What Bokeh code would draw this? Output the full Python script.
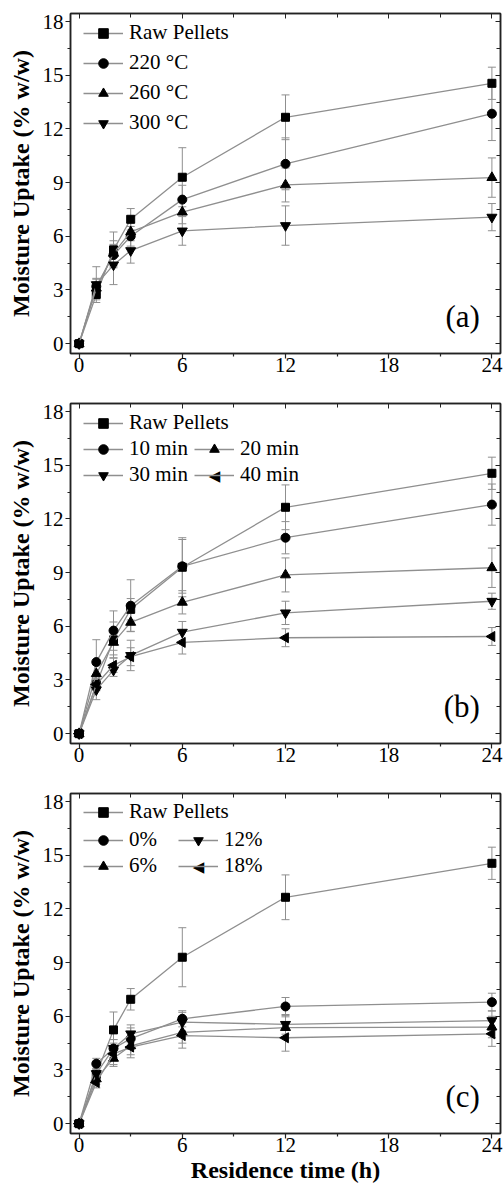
import math
from bokeh.plotting import figure
from bokeh.models import (ColumnDataSource, Whisker, TeeHead, FixedTicker, LinearAxis,
                          Legend, LegendItem, Label, Range1d, CustomLabelingPolicy)
from bokeh.layouts import column
from bokeh.embed import file_html
from bokeh.resources import INLINE

# ---------------- data ----------------
hours = [0, 1, 2, 3, 6, 12, 24]

raw = [0, 2.75, 5.24, 6.95, 9.3, 12.65, 14.55]
raw_err = [0, 0.3, 1.0, 0.6, 1.65, 1.25, 0.9]

# (a) torrefaction temperature
t220 = [0, 3.2, 4.95, 6.0, 8.05, 10.05, 12.85]
t220_err = [0, 0.45, 0.6, 0.55, 0.8, 1.45, 1.5]
t260 = [0, 3.1, 5.05, 6.25, 7.35, 8.87, 9.28]
t260_err = [0, 0.5, 0.7, 0.5, 0.65, 0.95, 1.1]
t300 = [0, 3.3, 4.4, 5.2, 6.3, 6.6, 7.07]
t300_err = [0, 1.0, 1.1, 0.7, 0.8, 1.1, 0.76]

# (b) residence time
m10 = [0, 4.0, 5.76, 7.15, 9.35, 10.95, 12.8]
m10_err = [0, 1.25, 1.1, 1.45, 1.5, 0.9, 1.15]
m20 = [0, 3.35, 5.1, 6.22, 7.34, 8.87, 9.27]
m20_err = [0, 0.5, 0.7, 0.5, 0.65, 0.95, 1.1]
m30 = [0, 2.45, 3.55, 4.37, 5.67, 6.75, 7.4]
m30_err = [0, 0.55, 0.35, 0.85, 0.6, 0.65, 0.45]
m40 = [0, 2.75, 3.82, 4.3, 5.1, 5.36, 5.43]
m40_err = [0, 0.35, 0.4, 0.5, 0.65, 0.5, 0.5]

# (c) additive content
p0 = [0, 3.35, 4.2, 4.75, 5.86, 6.55, 6.79]
p0_err = [0, 0.3, 0.5, 0.6, 0.45, 0.5, 0.5]
p6 = [0, 2.5, 3.65, 4.35, 5.1, 5.37, 5.4]
p6_err = [0, 0.3, 0.45, 0.5, 0.6, 0.6, 0.6]
p12 = [0, 2.8, 4.2, 5.02, 5.67, 5.55, 5.76]
p12_err = [0, 0.3, 0.5, 0.5, 0.55, 0.55, 0.55]
p18 = [0, 2.3, 3.9, 4.28, 4.92, 4.8, 5.02]
p18_err = [0, 0.3, 0.6, 0.6, 0.7, 0.75, 0.7]

x_major = [0, 6, 12, 18, 24]
x_minor = [3, 9, 15, 21]
y_major = [0, 3, 6, 9, 12, 15, 18]
y_minor = [1.5, 4.5, 7.5, 10.5, 13.5, 16.5]

# ---------------- style ----------------
FONT = "Liberation Serif"
LINE_GRAY = "#8f8f8f"
ERR_GRAY = "#8f8f8f"
AX = "#222222"
FRAME_H = 340

MARKERS = {
    "square": dict(marker="square", size=8, angle=0.0),
    "circle": dict(marker="circle", size=9, angle=0.0),
    "up": dict(marker="triangle", size=10, angle=0.0),
    "down": dict(marker="inverted_triangle", size=10, angle=0.0),
    "left": dict(marker="triangle", size=10, angle=math.pi / 2),
}

NO_LABELS = CustomLabelingPolicy(code="""
    const out = [];
    for (const i of indices) out.push(i);
    for (const i of out) indices.unset(i);
    return indices;
""")


def make_panel(series, tag, legend_specs, height, bottom, xlabel=None):
    p = figure(width=504, height=height, x_range=Range1d(-0.5, 24.5),
               y_range=Range1d(-0.55, 18.45), output_backend="svg",
               toolbar_location=None, min_border_left=70, min_border_right=1,
               min_border_top=13, min_border_bottom=bottom)
    p.xgrid.visible = False
    p.ygrid.visible = False
    p.outline_line_color = AX
    p.outline_line_width = 1.5
    p.background_fill_color = "white"
    p.border_fill_color = "white"

    xa = p.below[0]
    xa.ticker = FixedTicker(ticks=x_major, minor_ticks=x_minor)
    ya = p.left[0]
    ya.ticker = FixedTicker(ticks=y_major, minor_ticks=y_minor)
    for ax in (xa, ya):
        ax.axis_line_color = AX
        ax.axis_line_width = 1.5
        ax.major_tick_line_color = AX
        ax.minor_tick_line_color = AX
        ax.major_tick_line_width = 1.2
        ax.minor_tick_line_width = 1.2
        ax.major_tick_out = 5
        ax.major_tick_in = 0
        ax.minor_tick_out = 3
        ax.minor_tick_in = 0
        ax.major_label_text_font = FONT
        ax.major_label_text_font_size = "21px"
        ax.major_label_text_color = "black"
    xa.major_label_standoff = -1
    ya.major_label_standoff = 2
    ya.axis_label = "Moisture Uptake (% w/w)"
    ya.axis_label_text_font = FONT
    ya.axis_label_text_font_style = "bold"
    ya.axis_label_text_font_size = "24px"
    ya.axis_label_text_color = "black"
    ya.axis_label_standoff = 6
    if xlabel:
        xa.axis_label = xlabel
        xa.axis_label_text_font = FONT
        xa.axis_label_text_font_style = "bold"
        xa.axis_label_text_font_size = "24px"
        xa.axis_label_text_color = "black"
        xa.axis_label_standoff = 2

    top = LinearAxis(ticker=FixedTicker(ticks=x_major, minor_ticks=x_minor))
    right = LinearAxis(ticker=FixedTicker(ticks=y_major, minor_ticks=y_minor))
    for ax in (top, right):
        ax.axis_line_color = AX
        ax.axis_line_width = 1.5
        ax.major_tick_line_color = AX
        ax.minor_tick_line_color = AX
        ax.major_tick_in = 5
        ax.major_tick_out = 0
        ax.minor_tick_in = 4
        ax.minor_tick_out = 0
        ax.major_label_text_font_size = "1px"
        ax.major_label_standoff = 0
        ax.major_label_policy = NO_LABELS
    p.add_layout(top, "above")
    p.add_layout(right, "right")

    rend = {}
    for name, ys, errs, mk in series:
        src = ColumnDataSource(dict(x=hours, y=ys,
                                    u=[a + b for a, b in zip(ys, errs)],
                                    l=[a - b for a, b in zip(ys, errs)]))
        w = Whisker(base="x", upper="u", lower="l", source=src,
                    line_color=ERR_GRAY, line_width=1,
                    upper_head=TeeHead(size=8, line_color=ERR_GRAY, line_width=1),
                    lower_head=TeeHead(size=8, line_color=ERR_GRAY, line_width=1))
        p.add_layout(w)
        ln = p.line("x", "y", source=src, line_color=LINE_GRAY, line_width=1.3)
        m = MARKERS[mk]
        sc = p.scatter("x", "y", source=src, marker=m["marker"], size=m["size"],
                       angle=m["angle"], fill_color="black", line_color="black")
        rend[name] = (ln, sc, mk)

    # one legend per entry so rows / columns sit where the original has them
    for name, xoff, ctop in legend_specs:
        ln, sc, mk = rend[name]
        rs = [ln] if mk == "left" else [ln, sc]
        lg = Legend(items=[LegendItem(label=name, renderers=rs)],
                    location=(xoff, FRAME_H - ctop - 12),
                    glyph_width=40, glyph_height=24, label_height=24, spacing=0,
                    label_standoff=6, padding=0, margin=0, border_line_color=None,
                    background_fill_alpha=0, label_text_font=FONT,
                    label_text_font_size="21px", label_text_color="black")
        p.add_layout(lg)
        if mk == "left":
            p.add_layout(Label(x=xoff + 20, y=FRAME_H - ctop, x_units="screen",
                               y_units="screen", text="\u25c0", text_align="center",
                               text_baseline="middle", text_font="DejaVu Sans",
                               text_font_size="15px", text_color="black"))

    p.add_layout(Label(x=23.3, y=1.5, text=tag, text_align="right",
                       text_baseline="middle", text_font=FONT,
                       text_font_size="31px", text_color="black"))
    return p


pa = make_panel(
    [("Raw Pellets", raw, raw_err, "square"),
     ("220 °C", t220, t220_err, "circle"),
     ("260 °C", t260, t260_err, "up"),
     ("300 °C", t300, t300_err, "down")],
    "(a)",
    [("Raw Pellets", 13, 20), ("220 °C", 13, 50), ("260 °C", 13, 80),
     ("300 °C", 13, 110)],
    390, 37)

pb = make_panel(
    [("Raw Pellets", raw, raw_err, "square"),
     ("10 min", m10, m10_err, "circle"),
     ("20 min", m20, m20_err, "up"),
     ("30 min", m30, m30_err, "down"),
     ("40 min", m40, m40_err, "left")],
    "(b)",
    [("Raw Pellets", 13, 20), ("10 min", 13, 46), ("20 min", 124, 46),
     ("30 min", 13, 72), ("40 min", 124, 72)],
    390, 37)

pc = make_panel(
    [("Raw Pellets", raw, raw_err, "square"),
     ("0%", p0, p0_err, "circle"),
     ("6%", p6, p6_err, "up"),
     ("12%", p12, p12_err, "down"),
     ("18%", p18, p18_err, "left")],
    "(c)",
    [("Raw Pellets", 13, 19), ("0%", 13, 47), ("12%", 108, 47),
     ("6%", 13, 73), ("18%", 108, 73)],
    410, 57, xlabel="Residence time (h)")

layout = column(pa, pb, pc, spacing=0)
open("out.html", "w").write(file_html(layout, INLINE))
